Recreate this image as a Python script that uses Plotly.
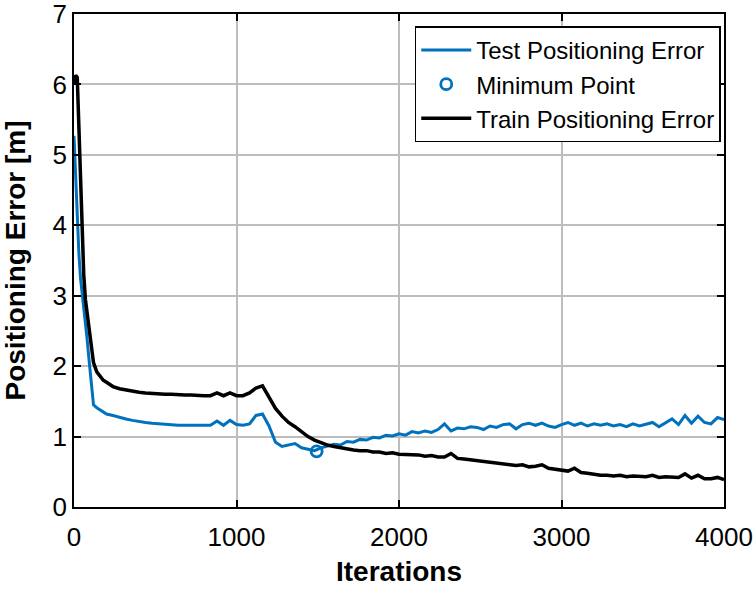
import plotly.graph_objects as go

iterations = [0, 10, 20, 30, 40, 50, 60, 70, 80, 90, 100, 110, 120, 140, 160, 180, 200,
              240, 280, 320, 360, 400, 440, 480, 520, 560, 600, 640, 680, 720, 760, 800, 840,
              880, 920, 960, 1000, 1040, 1080, 1120, 1160, 1200, 1240, 1280, 1320, 1360, 1400,
              1440, 1480, 1520, 1560, 1600, 1640, 1680, 1720, 1760, 1800, 1840, 1880, 1920, 1960,
              2000, 2040, 2080, 2120, 2160, 2200, 2240, 2280, 2320, 2360, 2400, 2440, 2480, 2520,
              2560, 2600, 2640, 2680, 2720, 2760, 2800, 2840, 2880, 2920, 2960, 3000, 3040, 3080,
              3120, 3160, 3200, 3240, 3280, 3320, 3360, 3400, 3440, 3480, 3520, 3560, 3600, 3640,
              3680, 3720, 3760, 3800, 3840, 3880, 3920, 3960, 4000]

test_error = [5.27, 4.70, 4.10, 3.60, 3.25, 3.05, 2.85, 2.65, 2.40, 2.15, 1.88, 1.60, 1.45, 1.41, 1.38, 1.35, 1.32,
              1.30, 1.27, 1.25, 1.23, 1.21, 1.20, 1.19, 1.18, 1.18, 1.17, 1.16, 1.16, 1.16, 1.16, 1.16, 1.16,
              1.22, 1.16, 1.23, 1.17, 1.16, 1.18, 1.30, 1.32, 1.15, 0.92, 0.86, 0.88, 0.90, 0.84,
              0.82, 0.80, 0.84, 0.86, 0.89, 0.88, 0.93, 0.92, 0.96, 0.95, 0.99, 0.98, 1.02, 1.01,
              1.04, 1.02, 1.07, 1.05, 1.08, 1.06, 1.10, 1.18, 1.08, 1.12, 1.11, 1.14, 1.13, 1.10,
              1.15, 1.13, 1.17, 1.18, 1.11, 1.17, 1.19, 1.16, 1.19, 1.15, 1.13, 1.17, 1.20, 1.16,
              1.19, 1.15, 1.18, 1.16, 1.18, 1.15, 1.17, 1.14, 1.18, 1.15, 1.18, 1.20, 1.14, 1.19,
              1.25, 1.17, 1.30, 1.19, 1.29, 1.20, 1.18, 1.27, 1.24]

train_error = [6.00, 6.13, 6.10, 5.30, 4.50, 3.80, 3.30, 2.95, 2.75, 2.55, 2.35, 2.18, 2.05, 1.92, 1.86, 1.80, 1.77,
               1.71, 1.68, 1.66, 1.64, 1.63, 1.62, 1.61, 1.61, 1.60, 1.60, 1.59, 1.59, 1.59, 1.58, 1.58, 1.58,
               1.62, 1.58, 1.62, 1.58, 1.58, 1.62, 1.69, 1.72, 1.55, 1.40, 1.29, 1.20, 1.14, 1.07,
               1.00, 0.95, 0.91, 0.88, 0.86, 0.84, 0.83, 0.81, 0.80, 0.80, 0.78, 0.78, 0.76, 0.77,
               0.75, 0.75, 0.74, 0.74, 0.72, 0.73, 0.71, 0.71, 0.76, 0.69, 0.68, 0.67, 0.65, 0.64,
               0.64, 0.62, 0.62, 0.60, 0.59, 0.60, 0.57, 0.58, 0.60, 0.55, 0.54, 0.52, 0.51, 0.55,
               0.49, 0.48, 0.46, 0.45, 0.45, 0.44, 0.45, 0.43, 0.44, 0.43, 0.43, 0.45, 0.42, 0.43,
               0.42, 0.42, 0.47, 0.41, 0.45, 0.40, 0.40, 0.42, 0.39]

min_iter = [1493]
min_value = [0.79]

x_ticks = [0, 1000, 2000, 3000, 4000]
y_ticks = [0, 1, 2, 3, 4, 5, 6, 7]

BLUE = "#0072BD"
FONT = "Arial, Liberation Sans, sans-serif"

fig = go.Figure()
fig.add_trace(go.Scatter(x=iterations, y=test_error, mode="lines",
                         name="Test Positioning Error",
                         line=dict(color=BLUE, width=3)))
fig.add_trace(go.Scatter(x=min_iter, y=min_value, mode="markers",
                         name="Minimum Point",
                         marker=dict(symbol="circle-open", size=11, color=BLUE,
                                     line=dict(width=2.8, color=BLUE))))
fig.add_trace(go.Scatter(x=iterations, y=train_error, mode="lines",
                         name="Train Positioning Error",
                         line=dict(color="black", width=3.5)))

axis_common = dict(showline=True, linecolor="black", linewidth=1.5, mirror="ticks",
                   ticks="inside", ticklen=7, tickwidth=1.5, tickcolor="black",
                   showgrid=True, gridcolor="#bdbdbd", gridwidth=1.5, zeroline=False,
                   automargin=False, ticklabeloverflow="allow",
                   tickfont=dict(family=FONT, size=26, color="black"))

fig.update_xaxes(range=[0, 4000], tickvals=x_ticks, ticktext=[str(v) for v in x_ticks],
                 ticklabelstandoff=6,
                 title=dict(text="<b>Iterations</b>", font=dict(family=FONT, size=28, color="black"),
                            standoff=10),
                 **axis_common)
fig.update_yaxes(range=[0, 7], tickvals=y_ticks, ticktext=[str(v) for v in y_ticks],
                 title=dict(text="<b>Positioning Error [m]</b>", font=dict(family=FONT, size=28, color="black"),
                            standoff=24),
                 **axis_common)

fig.update_layout(
    width=755, height=589,
    margin=dict(l=74, r=31, t=14, b=82),
    paper_bgcolor="white", plot_bgcolor="white",
    showlegend=True,
    legend=dict(x=0.995, y=0.975, xanchor="right", yanchor="top",
                bgcolor="white", bordercolor="black", borderwidth=1.5,
                font=dict(family=FONT, size=24, color="black"),
                tracegroupgap=0, itemwidth=50),
)

fig.write_html("out.html", config={"displayModeBar": False},
               post_script="document.body.style.margin='0px';")
